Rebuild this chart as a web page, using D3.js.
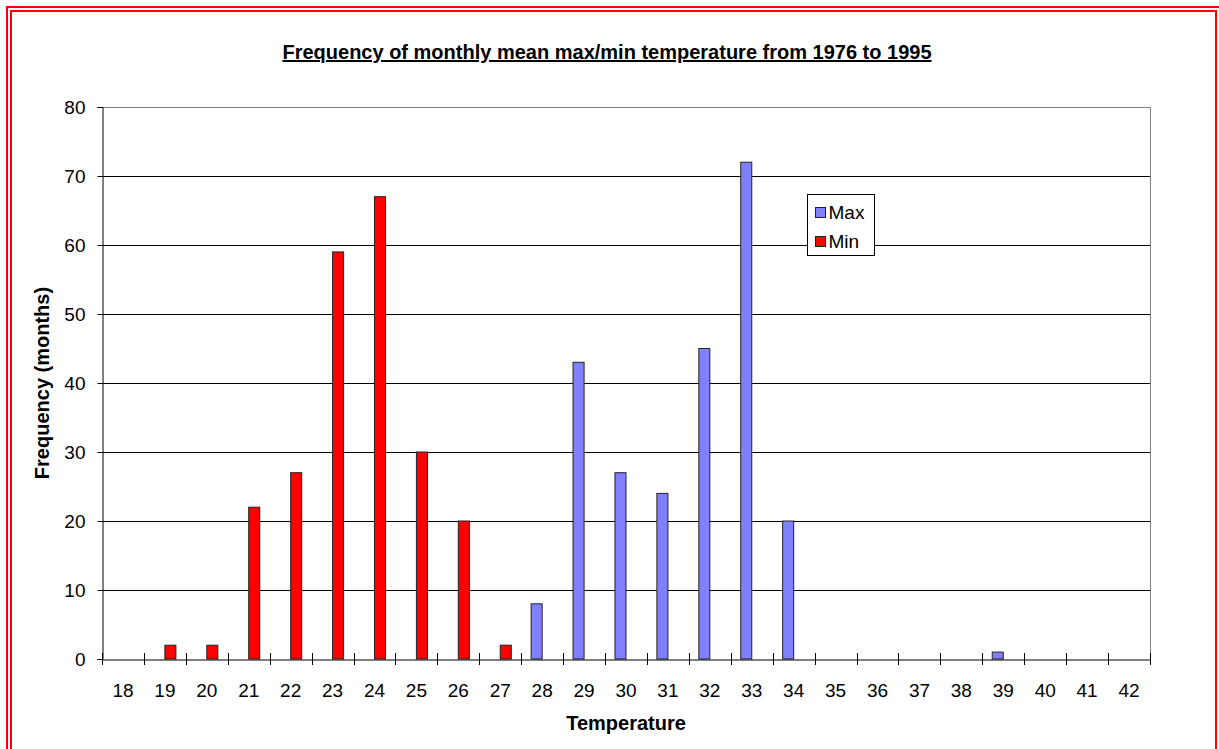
<!DOCTYPE html>
<html>
<head>
<meta charset="utf-8">
<script src="https://cdn.jsdelivr.net/npm/d3@7"></script>
<style>
  body { margin: 0; background: #fff; }
  text { font-family: "Liberation Sans", Arial, sans-serif; }
</style>
</head>
<body>
<svg width="1219" height="749"></svg>
<script>
// data
var temps = ['18','19','20','21','22','23','24','25','26','27','28','29','30',
             '31','32','33','34','35','36','37','38','39','40','41','42'];
var maxFreq = [0,0,0,0,0,0,0,0,0,0,8,43,27,24,45,72,20,0,0,0,0,1,0,0,0];
var minFreq = [0,2,2,22,27,59,67,30,20,2,0,0,0,0,0,0,0,0,0,0,0,0,0,0,0];
var seriesNames = ['Max', 'Min'];
var seriesColors = ['#8080ff', '#ff0000'];
var yTicks = [0,10,20,30,40,50,60,70,80];

var svg = d3.select('svg');

// double red frame
svg.append('rect').attr('x', 7).attr('y', 7).attr('width', 1219).attr('height', 760)
    .attr('fill', 'none').attr('stroke', '#ff0000').attr('stroke-width', 2);
svg.append('rect').attr('x', 11).attr('y', 11).attr('width', 1205).attr('height', 760)
    .attr('fill', 'none').attr('stroke', '#ff0000').attr('stroke-width', 2);

var plotL = 102, plotR = 1150, plotT = 107, plotB = 659;

var x = d3.scaleBand().domain(temps).range([plotL, plotR]);
var xs = d3.scaleBand().domain(seriesNames).range([0, x.bandwidth()]).paddingOuter(0.9);
var y = d3.scaleLinear().domain([0, 80]).range([plotB, plotT]);

var rows = temps.map(function(t, i){
    return { t: t, vals: [maxFreq[i], minFreq[i]] };
});

// gridlines
svg.append('g').selectAll('line')
    .data(yTicks.slice(1, -1))
    .enter().append('line')
    .attr('x1', plotL).attr('x2', plotR)
    .attr('y1', function(d){ return Math.round(y(d)) + 0.5; })
    .attr('y2', function(d){ return Math.round(y(d)) + 0.5; })
    .attr('stroke', '#000');

// plot border top/right
svg.append('path')
    .attr('d', 'M' + plotL + ',' + (plotT + 0.5) + 'H' + (plotR + 0.5) + 'V' + plotB)
    .attr('fill', 'none').attr('stroke', '#808080').attr('stroke-width', 1);

// bars
var groups = svg.append('g').selectAll('g')
    .data(rows)
    .enter().append('g')
    .attr('transform', function(d){ return 'translate(' + x(d.t) + ',0)'; });

groups.selectAll('rect')
    .data(function(d){
        return d.vals.map(function(v, i){ return { s: seriesNames[i], v: v, c: seriesColors[i] }; });
    })
    .enter().filter(function(d){ return d.v > 0; })
    .append('rect')
    .attr('x', function(d){ return xs(d.s); })
    .attr('width', xs.bandwidth())
    .attr('y', function(d){ return y(d.v); })
    .attr('height', function(d){ return plotB - y(d.v); })
    .attr('fill', function(d){ return d.c; })
    .attr('stroke', '#222')
    .attr('stroke-width', 1);

// y axis
var yAxis = svg.append('g')
    .attr('transform', 'translate(' + (plotL + 0.5) + ',0)')
    .call(d3.axisLeft(y).tickValues(yTicks).tickSize(5).tickPadding(12));
yAxis.select('.domain').attr('stroke', '#000');
yAxis.selectAll('text').attr('font-size', 19).attr('fill', '#000')
    .style('font-family', '"Liberation Sans", Arial, sans-serif');

// x axis
var xAxis = svg.append('g')
    .attr('transform', 'translate(0,' + (plotB + 0.5) + ')')
    .call(d3.axisBottom(x).tickSize(0).tickPadding(24));
xAxis.select('.domain').attr('stroke', '#000');
xAxis.selectAll('text').attr('font-size', 19).attr('fill', '#000')
    .style('font-family', '"Liberation Sans", Arial, sans-serif');

// x boundary ticks crossing the axis
svg.append('g').selectAll('line')
    .data(temps.concat(['end']))
    .enter().append('line')
    .attr('x1', function(d){ return Math.round(d === 'end' ? plotR : x(d)) + 0.5; })
    .attr('x2', function(d){ return Math.round(d === 'end' ? plotR : x(d)) + 0.5; })
    .attr('y1', plotB - 6).attr('y2', plotB + 6)
    .attr('stroke', '#000');

// titles
svg.append('text')
    .attr('x', 607).attr('y', 59)
    .attr('text-anchor', 'middle')
    .attr('font-size', 20).attr('font-weight', 'bold')
    .attr('text-decoration', 'underline')
    .text('Frequency of monthly mean max/min temperature from 1976 to 1995');

svg.append('text')
    .attr('x', (plotL + plotR) / 2).attr('y', 730)
    .attr('text-anchor', 'middle')
    .attr('font-size', 20).attr('font-weight', 'bold')
    .text('Temperature');

svg.append('text')
    .attr('transform', 'translate(49,' + ((plotT + plotB) / 2) + ') rotate(-90)')
    .attr('text-anchor', 'middle')
    .attr('font-size', 20).attr('font-weight', 'bold')
    .text('Frequency (months)');

// legend
var legend = svg.append('g').attr('transform', 'translate(807.5,194.5)');
legend.append('rect').attr('width', 67).attr('height', 61)
    .attr('fill', '#fff').attr('stroke', '#000');
var li = legend.selectAll('g.item')
    .data(seriesNames)
    .enter().append('g').attr('class', 'item')
    .attr('transform', function(d, i){ return 'translate(8,' + (13 + i * 29) + ')'; });
li.append('rect').attr('width', 10).attr('height', 10)
    .attr('fill', function(d, i){ return seriesColors[i]; })
    .attr('stroke', '#222');
li.append('text').attr('x', 13).attr('y', 11)
    .attr('font-size', 19)
    .text(function(d){ return d; });
</script>
</body>
</html>
